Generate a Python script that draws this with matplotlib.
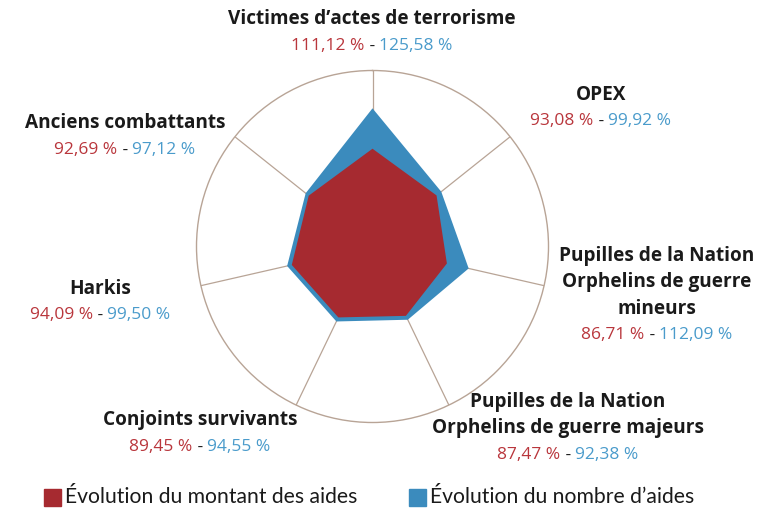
import numpy as np
import matplotlib
matplotlib.use("Agg")
import matplotlib.pyplot as plt
from matplotlib.patches import Rectangle

categories = [
    "Victimes d’actes de terrorisme",
    "OPEX",
    "Pupilles de la Nation\nOrphelins de guerre\nmineurs",
    "Pupilles de la Nation\nOrphelins de guerre majeurs",
    "Conjoints survivants",
    "Harkis",
    "Anciens combattants",
]
# values printed in the labels
montant = [111.12, 93.08, 86.71, 87.47, 89.45, 94.09, 92.69]
nombre = [125.58, 99.92, 112.09, 92.38, 94.55, 99.50, 97.12]
# values as drawn in the polygons (the Victimes "nombre" vertex is drawn near 157)
montant_trace = [111.12, 93.08, 86.71, 87.47, 89.45, 94.09, 92.69]
nombre_trace = [157.0, 99.92, 112.09, 92.38, 94.55, 99.50, 97.12]
r_max = 200
legend_labels = ["Évolution du montant des aides", "Évolution du nombre d’aides"]

RED_FILL = "#a62a30"
BLUE_FILL = "#3b8bbd"
RED_TXT = "#b9363c"
BLUE_TXT = "#4a9bcb"
GRID = "#b8a496"
BLACK = "#1a1a1a"

W, H = 758, 508
fig = plt.figure(figsize=(W / 100, H / 100), dpi=100)

cx, cy, R = 372.5, 246.5, 176
ax = fig.add_axes([(cx - R) / W, (H - cy - R) / H, 2 * R / W, 2 * R / H], projection="polar")
ax.set_theta_zero_location("N")
ax.set_theta_direction(-1)
ax.set_ylim(0, r_max)
ax.grid(False)
ax.set_xticks([])
ax.set_yticks([])
ax.spines["polar"].set_color(GRID)
ax.spines["polar"].set_linewidth(1.0)

n = len(categories)
angles = np.arange(n) * 2 * np.pi / n
for a in angles:
    ax.plot([a, a], [0, r_max], color=GRID, lw=0.9, zorder=1)

ang_c = np.concatenate([angles, angles[:1]])
nb = np.concatenate([nombre_trace, nombre_trace[:1]])
mt = np.concatenate([montant_trace, montant_trace[:1]])
ax.fill(ang_c, nb, color=BLUE_FILL, lw=0, zorder=2)
ax.fill(ang_c, mt, color=RED_FILL, lw=0, zorder=3)

# label layout (pixel positions of the values line centre)
label_pos = [(372, 46), (601, 121), (657, 335), (568, 455), (200, 447), (100, 315), (125, 150)]
LINE = 26.5
TITLE_FONT = dict(family=["Open Sans", "DejaVu Sans"], weight="bold", size=13.7)
VAL_FONT = dict(family=["Open Sans", "DejaVu Sans"], size=12.5)

def fmt(v):
    return f"{v:.2f}".replace(".", ",") + "\u00a0%"

fig.canvas.draw()
renderer = fig.canvas.get_renderer()

def px(x, y):
    return (x / W, 1 - y / H)

for i, cat in enumerate(categories):
    x0, y0 = label_pos[i]
    lines = cat.split("\n")
    for j, line in enumerate(lines):
        yy = y0 - LINE * (len(lines) - j)
        fig.text(*px(x0, yy), line, ha="center", va="center", color=BLACK, **TITLE_FONT)
    parts = [(fmt(montant[i]), RED_TXT), (" - ", BLACK), (fmt(nombre[i]), BLUE_TXT)]
    texts = []
    widths = []
    for s, c in parts:
        t = fig.text(0, 0, s, ha="left", va="center", color=c, **VAL_FONT)
        widths.append(t.get_window_extent(renderer).width)
        texts.append(t)
    total = sum(widths)
    xs = x0 - total / 2
    for t, w in zip(texts, widths):
        t.set_position(px(xs, y0))
        xs += w

# legend
LEG_FONT = dict(family=["Lato", "DejaVu Sans"], size=15.2)
leg_items = [(44, RED_FILL, legend_labels[0]), (409, BLUE_FILL, legend_labels[1])]
for x, col, lab in leg_items:
    fig.patches.append(Rectangle(((x) / W, 1 - 506 / H), 17 / W, 17 / H,
                                 transform=fig.transFigure, color=col, figure=fig))
    fig.text(*px(x + 21, 497), lab, ha="left", va="center", color=BLACK, **LEG_FONT)

fig.savefig("out.png", dpi=100)
